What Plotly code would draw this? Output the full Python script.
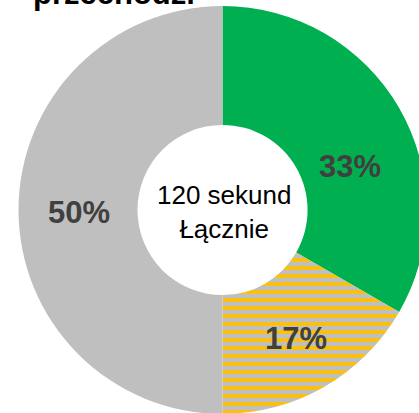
import plotly.graph_objects as go

# Data
labels = ["Zielony", "Żółty", "Szary"]
values = [40, 20, 60]  # seconds, total 120
slice_colors = ["#00B050", "#BFBFBF", "#BFBFBF"]
pattern_shapes = ["", "-", ""]
pattern_fg = ["#00B050", "#FFC000", "#BFBFBF"]
title_text = "przechodzi"
center_text = "120 sekund<br>Łącznie"

W, H = 430, 420

def px(x, y):
    return x / W, 1 - y / H

fig = go.Figure()
fig.add_trace(go.Pie(
    labels=labels,
    values=values,
    sort=False,
    direction="clockwise",
    rotation=0,
    hole=0.417,
    textinfo="none",
    hoverinfo="none",
    showlegend=False,
    marker=dict(
        colors=slice_colors,
        line=dict(width=0),
        pattern=dict(shape=pattern_shapes, fgcolor=pattern_fg,
                     bgcolor=slice_colors, size=8, solidity=0.45,
                     fillmode="replace", fgopacity=1),
    ),
    domain=dict(x=[18.5 / W, 426.5 / W], y=[(H - 414) / H, (H - 6) / H]),
))

total = sum(values)
label_pos = [(350, 167), (296, 338), (79, 212)]
annotations = []
for v, (lx, ly) in zip(values, label_pos):
    ax, ay = px(lx, ly)
    annotations.append(dict(
        x=ax, y=ay, xref="paper", yref="paper", xanchor="center", yanchor="middle",
        text=f"<b>{round(v / total * 100)}%</b>", showarrow=False,
        font=dict(family="Arial, Liberation Sans", size=31, color="#404040"),
    ))

cx, cy = px(224, 212)
annotations.append(dict(
    x=cx, y=cy, xref="paper", yref="paper", xanchor="center", yanchor="middle",
    text=center_text, showarrow=False,
    font=dict(family="Arial, Liberation Sans", size=26, color="#000000"),
))

tx, ty = px(31, -7)
annotations.append(dict(
    x=tx, y=ty, xref="paper", yref="paper", xanchor="left", yanchor="middle",
    text=f"<b>{title_text}</b>", showarrow=False,
    font=dict(family="Arial, Liberation Sans", size=31, color="#000000"),
))

fig.update_layout(
    width=W, height=H,
    margin=dict(l=0, r=0, t=0, b=0),
    paper_bgcolor="white",
    plot_bgcolor="white",
    annotations=annotations,
)

fig.write_html("out.html", post_script="document.body.style.overflow='hidden';document.documentElement.style.overflow='hidden';")
